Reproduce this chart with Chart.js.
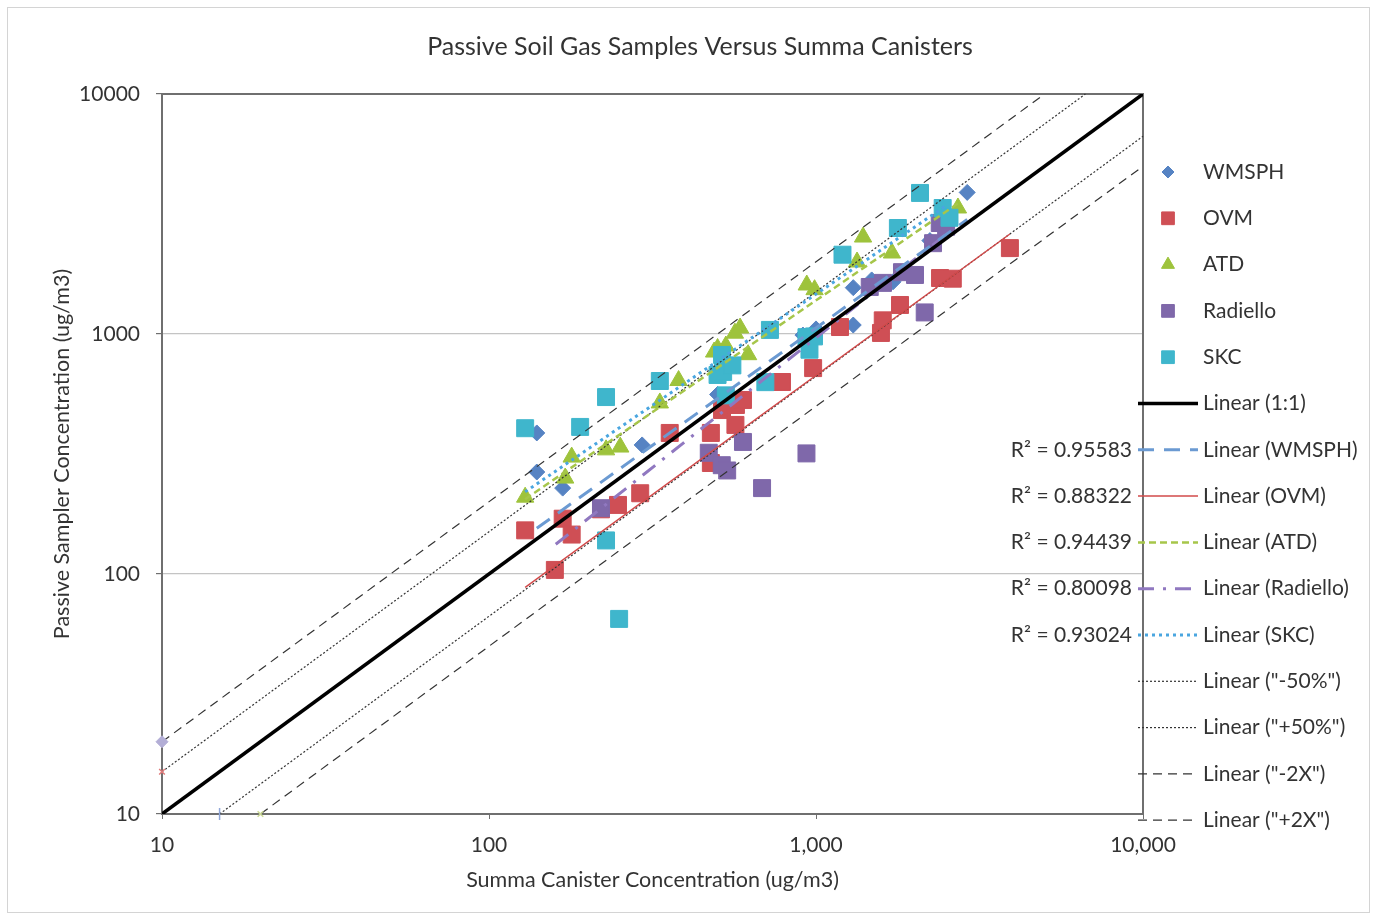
<!DOCTYPE html>
<html>
<head>
<meta charset="utf-8">
<script src="https://cdn.jsdelivr.net/npm/chart.js@4.4.1/dist/chart.umd.min.js"></script>
<style>
  html, body { margin: 0; padding: 0; background: #fff; }
</style>
</head>
<body>
<canvas id="chart" width="1376" height="920"></canvas>
<script>
// axis ticks
var xTicks = [10, 100, 1000, 10000];
var yTicks = [10, 100, 1000, 10000];

// sampler results (x = summa canister, y = passive sampler), ug/m3
var wmsphX = [140, 140, 168, 294, 500, 912, 1000, 1300, 1300, 1480, 1720, 2230, 2510, 2900];
var wmsphY = [387, 266, 228, 345, 560, 990, 1050, 1090, 1560, 1680, 1650, 2450, 2790, 3890];

var ovmX = [129, 159, 168, 179, 220, 248, 290, 357, 477, 477, 516, 569, 567, 598, 787, 980, 1184, 1580, 1600, 1807, 2395, 2620, 3917];
var ovmY = [152, 104, 170, 146, 186, 194, 217, 387, 387, 290, 482, 506, 418, 531, 631, 721, 1069, 1010, 1140, 1321, 1711, 1700, 2280];

var atdX = [129, 171, 179, 228, 252, 333, 380, 488, 500, 530, 565, 586, 620, 937, 990, 1335, 1393, 1707, 2717];
var atdY = [209, 251, 307, 329, 338, 516, 640, 841, 870, 891, 1008, 1059, 820, 1600, 1530, 1995, 2535, 2175, 3350];

var radielloX = [220, 470, 515, 535, 598, 684, 935, 1460, 1603, 1832, 2008, 2150, 2280, 2390, 2500];
var radielloY = [188, 320, 284, 270, 355, 228, 318, 1570, 1633, 1810, 1762, 1230, 2390, 2900, 2800];

var skcX = [129, 190, 228, 228, 250, 333, 500, 516, 520, 530, 555, 700, 723, 935, 955, 986, 1205, 1780, 2080, 2440, 2560];
var skcY = [405, 410, 546, 138, 65, 637, 675, 818, 695, 555, 740, 630, 1040, 970, 860, 977, 2140, 2765, 3870, 3350, 3050];

// linear trendlines (end points) and their R squared values
var wmsphFitX = [140, 2900];
var wmsphFitY = [155, 3000];
var ovmFitX = [129, 3917];
var ovmFitY = [88, 2610];
var atdFitX = [129, 2717];
var atdFitY = [205, 3500];
var radielloFitX = [160, 2500];
var radielloFitY = [133, 2600];
var skcFitX = [129, 2480];
var skcFitY = [220, 3400];
var r2Values = [0.95583, 0.88322, 0.94439, 0.80098, 0.93024];

// reference lines
var oneToOneX = [10, 10000];
var oneToOneY = [10, 10000];
var minus50X = [15, 10000];
var minus50Y = [10, 6667];
var plus50X = [10, 6667];
var plus50Y = [15, 10000];
var minus2xX = [20, 10000];
var minus2xY = [10, 5000];
var plus2xX = [10, 5000];
var plus2xY = [20, 10000];

var fontFamily = 'Lato, "Open Sans", sans-serif';
var textColor = '#333333';

function pts(xs, ys) {
    return xs.map(function (x, i) { return { x: x, y: ys[i] }; });
}

function markerSet(label, xs, ys, color, style, radius, legendRadius, order) {
    return {
        label: label,
        data: pts(xs, ys),
        showLine: false,
        pointStyle: style,
        pointRadius: radius,
        legendRadius: legendRadius,
        backgroundColor: color,
        borderColor: color,
        pointBorderWidth: 1,
        order: order
    };
}

function lineSet(label, xs, ys, color, width, dash, order, extra) {
    var ds = {
        label: label,
        data: pts(xs, ys),
        showLine: true,
        pointRadius: 0,
        borderColor: color,
        backgroundColor: color,
        borderWidth: width,
        borderDash: dash,
        order: order
    };
    for (var k in extra) ds[k] = extra[k];
    return ds;
}

var datasets = [
    lineSet('Linear (1:1)', oneToOneX, oneToOneY, '#000000', 3.5, [], 1, {}),
    lineSet('Linear (WMSPH)', wmsphFitX, wmsphFitY, '#6b9ad2', 3, [16, 10], 2, { r2: r2Values[0] }),
    lineSet('Linear (OVM)', ovmFitX, ovmFitY, '#d24a4a', 1.5, [], 3, { r2: r2Values[1] }),
    lineSet('Linear (ATD)', atdFitX, atdFitY, '#a6c64a', 2.5, [7, 4], 4, { r2: r2Values[2] }),
    lineSet('Linear (Radiello)', radielloFitX, radielloFitY, '#9078c0', 3, [16, 9, 3, 9], 5, { r2: r2Values[3] }),
    lineSet('Linear (SKC)', skcFitX, skcFitY, '#4aa6e0', 3, [3, 4], 6, { r2: r2Values[4] }),
    lineSet('Linear ("-50%")', minus50X, minus50Y, '#333333', 1.2, [2, 2], 7, {
        clip: false, pointRadius: [6, 0], pointStyle: 'line', rotation: 90,
        pointBorderColor: '#8fa6d8', pointBorderWidth: 1.5
    }),
    lineSet('Linear ("+50%")', plus50X, plus50Y, '#333333', 1.2, [2, 2], 8, {
        clip: false, pointRadius: [4, 0], pointStyle: 'crossRot',
        pointBorderColor: '#e07a7a', pointBorderWidth: 1.5
    }),
    lineSet('Linear ("-2X")', minus2xX, minus2xY, '#333333', 1.2, [9, 6], 9, {
        clip: false, pointRadius: [4, 0], pointStyle: 'crossRot',
        pointBorderColor: '#cbd996', pointBorderWidth: 1.5
    }),
    lineSet('Linear ("+2X")', plus2xX, plus2xY, '#333333', 1.2, [9, 6], 10, {
        clip: false, pointRadius: [6, 0], pointStyle: 'rectRot',
        pointBackgroundColor: '#b3aed6', pointBorderColor: '#b3aed6', pointBorderWidth: 1
    }),
    markerSet('SKC', skcX, skcY, '#3fb6cc', 'rect', 12, 9, 11),
    markerSet('Radiello', radielloX, radielloY, '#7f68aa', 'rect', 12, 9, 12),
    markerSet('ATD', atdX, atdY, '#9ec33c', 'triangle', 10, 7.5, 13),
    markerSet('OVM', ovmX, ovmY, '#cf4f55', 'rect', 12, 9, 14),
    markerSet('WMSPH', wmsphX, wmsphY, '#5683c3', 'rectRot', 8, 6, 15)
];

var legendOrder = ['WMSPH', 'OVM', 'ATD', 'Radiello', 'SKC', 'Linear (1:1)', 'Linear (WMSPH)',
    'Linear (OVM)', 'Linear (ATD)', 'Linear (Radiello)', 'Linear (SKC)', 'Linear ("-50%")',
    'Linear ("+50%")', 'Linear ("-2X")', 'Linear ("+2X")'];

var decorPlugin = {
    id: 'decor',
    beforeDatasetsDraw: function (chart) {
        var ctx = chart.ctx, a = chart.chartArea;
        ctx.save();
        // outer chart border
        ctx.strokeStyle = '#d4d4d4';
        ctx.lineWidth = 1;
        ctx.strokeRect(7.5, 7.5, 1362, 905);
        // plot area frame
        ctx.strokeStyle = '#6f6f6f';
        ctx.lineWidth = 2;
        ctx.strokeRect(a.left, a.top, a.right - a.left, a.bottom - a.top);
        // title
        ctx.fillStyle = textColor;
        ctx.font = '25px ' + fontFamily;
        ctx.textAlign = 'center';
        ctx.textBaseline = 'middle';
        ctx.fillText('Passive Soil Gas Samples Versus Summa Canisters', 700, 47);
        ctx.restore();
    },
    afterDraw: function (chart) {
        var ctx = chart.ctx;
        var top = 172, step = 46.3;
        ctx.save();
        ctx.font = '21px ' + fontFamily;
        ctx.textBaseline = 'middle';
        legendOrder.forEach(function (name, i) {
            var ds = chart.data.datasets.filter(function (d) { return d.label === name; })[0];
            var y = top + i * step;
            if (ds.showLine) {
                ctx.save();
                ctx.strokeStyle = ds.borderColor;
                ctx.lineWidth = ds.borderWidth;
                ctx.setLineDash(ds.borderDash);
                ctx.beginPath();
                ctx.moveTo(1138, y);
                ctx.lineTo(1198, y);
                ctx.stroke();
                ctx.restore();
            } else {
                ctx.fillStyle = ds.backgroundColor;
                ctx.strokeStyle = ds.borderColor;
                ctx.lineWidth = 1;
                Chart.helpers.drawPoint(ctx, { pointStyle: ds.pointStyle, radius: ds.legendRadius, borderWidth: 1, rotation: 0 }, 1168, y);
            }
            ctx.fillStyle = textColor;
            ctx.textAlign = 'left';
            ctx.fillText(name, 1203, y);
            if (ds.r2 !== undefined) {
                ctx.textAlign = 'right';
                ctx.fillText('R\u00b2 = ' + ds.r2.toFixed(5), 1132, y);
            }
        });
        ctx.restore();
    }
};

new Chart(document.getElementById('chart'), {
    type: 'scatter',
    data: { datasets: datasets },
    options: {
        responsive: false,
        animation: false,
        layout: { padding: { top: 94, right: 233, bottom: 0, left: 0 } },
        plugins: {
            legend: { display: false },
            tooltip: { enabled: false },
            title: { display: false }
        },
        scales: {
            x: {
                type: 'logarithmic',
                min: 10,
                max: 10000,
                afterBuildTicks: function (s) { s.ticks = xTicks.map(function (v) { return { value: v }; }); },
                afterFit: function (s) { s.height = 106; },
                border: { display: false },
                grid: { drawOnChartArea: false, drawTicks: true, tickLength: 5, color: '#6f6f6f' },
                ticks: {
                    autoSkip: false, maxRotation: 0, padding: 14, color: textColor,
                    font: { family: fontFamily, size: 21 },
                    callback: function (v) { return Number(v).toLocaleString('en-US'); }
                },
                title: {
                    display: true, text: 'Summa Canister Concentration (ug/m3)', color: textColor,
                    font: { family: fontFamily, size: 21.5 }, padding: { top: 0, bottom: 27 }
                }
            },
            y: {
                type: 'logarithmic',
                min: 10,
                max: 10000,
                afterBuildTicks: function (s) { s.ticks = yTicks.map(function (v) { return { value: v }; }); },
                afterFit: function (s) { s.width = 162; },
                border: { display: false },
                grid: {
                    drawTicks: true, tickLength: 6, tickColor: '#6f6f6f',
                    color: function (c) {
                        var v = c.tick && c.tick.value;
                        return (v === 100 || v === 1000) ? '#c4c4c4' : 'rgba(0,0,0,0)';
                    },
                    lineWidth: 1.2
                },
                ticks: {
                    padding: 16, color: textColor,
                    font: { family: fontFamily, size: 21 },
                    callback: function (v) { return String(v); }
                },
                title: {
                    display: true, text: 'Passive Sampler Concentration (ug/m3)', color: textColor,
                    font: { family: fontFamily, size: 21.5 }, padding: { top: 49, bottom: 0 }
                }
            }
        }
    },
    plugins: [decorPlugin]
});
</script>
</body>
</html>
